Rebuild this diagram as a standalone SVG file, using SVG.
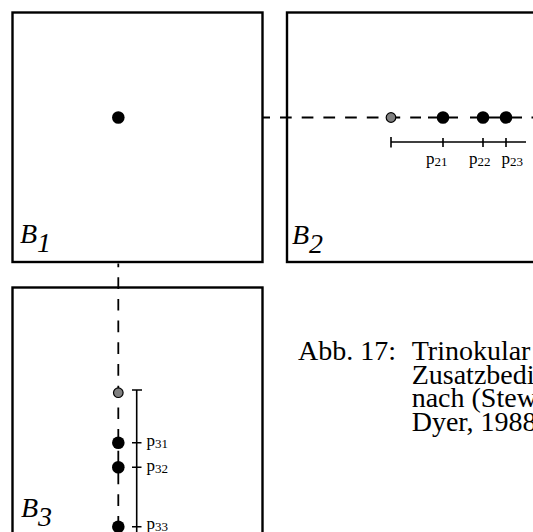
<svg xmlns="http://www.w3.org/2000/svg" width="533" height="532" viewBox="0 0 533 532">
<style>
.box{fill:#fff;stroke:#000;stroke-width:2.4}
.dash{fill:none;stroke:#000;stroke-width:1.8;stroke-dasharray:11.7 10}
.solid{fill:none;stroke:#000;stroke-width:1.8}
.rul{fill:none;stroke:#000;stroke-width:1.6}
.dot{fill:#000}
.gdot{fill:#808080;stroke:#000;stroke-width:1.2}
.blab{font-family:"Liberation Serif","Times New Roman",serif;font-style:italic;font-size:28px;fill:#000}
.plab{font-family:"Liberation Serif","Times New Roman",serif;font-size:17px;fill:#000}
.sub{font-size:13px}
.cap{font-family:"Liberation Serif","Times New Roman",serif;font-size:28px;fill:#000}
</style>
<rect width="533" height="532" fill="#fff"/>
<g id="B1">
  <rect class="box" x="12.5" y="12.5" width="250" height="249.5"/>
  <text class="blab" x="20" y="243">B<tspan dy="9">1</tspan></text>
</g>
<g id="B2">
  <rect class="box" x="287" y="12.5" width="300" height="249.5"/>
  <text class="blab" x="292" y="244">B<tspan dy="9">2</tspan></text>
</g>
<g id="B3">
  <rect class="box" x="12.5" y="287.5" width="250" height="300"/>
  <text class="blab" x="21" y="517">B<tspan dy="9">3</tspan></text>
</g>
<g id="connectors">
  <line class="dash" x1="263" y1="117.5" x2="421" y2="117.5" style="stroke-dashoffset:4.7"/>
  <path class="solid" d="M428,117.5H458M470,117.5H522M531.5,117.5H533"/>
  <line class="dash" x1="118.3" y1="263.5" x2="118.3" y2="532" style="stroke-dashoffset:8"/>
</g>
<g id="ruler2">
  <path class="rul" d="M391,142H526M391,137V147.5M443,138V147M483,138V147M506,138V147"/>
  <text class="plab" x="426" y="164">p<tspan class="sub" dy="1.5">21</tspan></text>
  <text class="plab" x="469" y="164">p<tspan class="sub" dy="1.5">22</tspan></text>
  <text class="plab" x="501.5" y="164">p<tspan class="sub" dy="1.5">23</tspan></text>
</g>
<g id="ruler3">
  <path class="rul" d="M136.7,390V532M132,390H142M132,442.7H141.5M132,467.3H141.5M132,526.7H141.5"/>
  <text class="plab" x="146.5" y="446">p<tspan class="sub" dy="1.5">31</tspan></text>
  <text class="plab" x="146.5" y="471">p<tspan class="sub" dy="1.5">32</tspan></text>
  <text class="plab" x="146.5" y="529">p<tspan class="sub" dy="1.5">33</tspan></text>
</g>
<g id="p1"><circle class="dot" cx="118.3" cy="117.5" r="6.3"/></g>
<g id="p2-candidates">
  <circle class="gdot" cx="391" cy="117.5" r="4.8"/>
  <circle class="dot" cx="443" cy="117.5" r="6.3"/>
  <circle class="dot" cx="483" cy="117.5" r="6.3"/>
  <circle class="dot" cx="506" cy="117.5" r="6.3"/>
</g>
<g id="p3-candidates">
  <circle class="gdot" cx="118.3" cy="392.7" r="4.8"/>
  <circle class="dot" cx="118.3" cy="442.7" r="6.3"/>
  <circle class="dot" cx="118.3" cy="467.3" r="6.3"/>
  <circle class="dot" cx="118.3" cy="526.7" r="6.3"/>
</g>
<g id="caption">
  <text class="cap" x="298" y="360">Abb. 17:</text>
  <text class="cap" x="411.7" y="360">Trinokular</text>
  <text class="cap" x="411.7" y="383.5">Zusatzbedi</text>
  <text class="cap" x="411.7" y="407">nach (Stew</text>
  <text class="cap" x="411.7" y="430.5">Dyer, 1988</text>
</g>
</svg>
